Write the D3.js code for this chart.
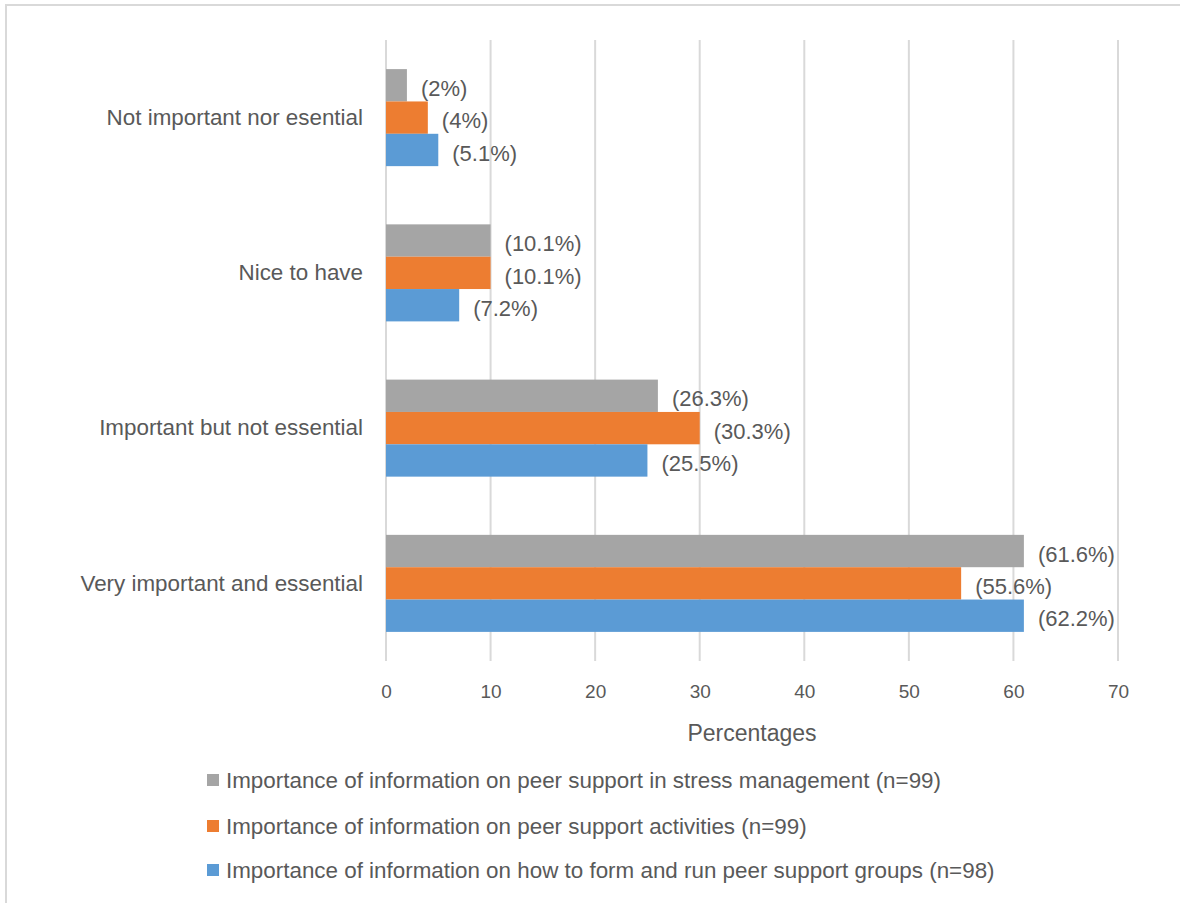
<!DOCTYPE html>
<html><head><meta charset="utf-8">
<script src="https://cdn.jsdelivr.net/npm/d3@7"></script>
<style>body{margin:0;background:#fff}svg{display:block}text{font-family:"Liberation Sans",Arial,sans-serif;fill:#595959}</style>
</head><body>
<svg id="chart" width="1180" height="903"></svg>
<script>
const categories = ["Not important nor esential", "Nice to have", "Important but not essential", "Very important and essential"];
const seriesNames = [
  "Importance of information on peer support in stress management (n=99)",
  "Importance of information on peer support activities (n=99)",
  "Importance of information on how to form and run peer support groups (n=98)"
];
const seriesColors = ["#A5A5A5", "#ED7D31", "#5B9BD5"];
// bar lengths as drawn
const stressValues = [2, 10, 26, 61];
const activitiesValues = [4, 10, 30, 55];
const groupsValues = [5, 7, 25, 61];
// printed data labels
const stressLabels = ["(2%)", "(10.1%)", "(26.3%)", "(61.6%)"];
const activitiesLabels = ["(4%)", "(10.1%)", "(30.3%)", "(55.6%)"];
const groupsLabels = ["(5.1%)", "(7.2%)", "(25.5%)", "(62.2%)"];
const xTicks = [0, 10, 20, 30, 40, 50, 60, 70];
const xTitle = "Percentages";

const values = [stressValues, activitiesValues, groupsValues];
const labels = [stressLabels, activitiesLabels, groupsLabels];

const svg = d3.select("#chart");
// outer border
svg.append("rect").attr("x", 6).attr("y", 5).attr("width", 1200).attr("height", 920)
  .attr("fill", "none").attr("stroke", "#d9d9d9").attr("stroke-width", 2);

const pLeft = 386, pRight = 1118, pTop = 40, pBottom = 661;
const x = d3.scaleLinear().domain([0, 70]).range([pLeft, pRight]);
const y = d3.scaleBand().domain(categories).range([pTop, pBottom]).paddingInner(0.375).paddingOuter(0.1875);
const ys = d3.scaleBand().domain(d3.range(3)).range([0, y.bandwidth()]);

// gridlines
svg.append("g").selectAll("line").data(xTicks).join("line")
  .attr("x1", d => x(d)).attr("x2", d => x(d)).attr("y1", pTop).attr("y2", pBottom)
  .attr("stroke", "#d9d9d9").attr("stroke-width", 2);

// x axis tick labels
const xAxis = d3.axisBottom(x).tickValues(xTicks).tickSize(0).tickPadding(0);
const gx = svg.append("g").attr("transform", `translate(0,${pBottom + 23})`).call(xAxis);
gx.select(".domain").remove();
gx.selectAll("text").attr("font-size", 19).attr("font-family", "Liberation Sans, Arial, sans-serif").attr("fill", "#595959").attr("dy", "0.71em");

// y axis labels
const yAxis = d3.axisLeft(y).tickSize(0).tickPadding(0);
const gy = svg.append("g").attr("transform", `translate(${pLeft - 23},0)`).call(yAxis);
gy.select(".domain").remove();
gy.selectAll("text").attr("font-size", 22.4).attr("font-family", "Liberation Sans, Arial, sans-serif").attr("fill", "#595959");

// bars
const groups = svg.append("g").selectAll("g").data(categories).join("g")
  .attr("transform", d => `translate(0,${y(d)})`);
groups.each(function(cat, ci) {
  const g = d3.select(this);
  for (let s = 0; s < 3; s++) {
    g.append("rect").attr("x", x(0)).attr("y", ys(s))
      .attr("width", x(values[s][ci]) - x(0)).attr("height", ys.bandwidth())
      .attr("fill", seriesColors[s]);
    g.append("text").attr("x", x(values[s][ci]) + 14).attr("y", ys(s) + ys.bandwidth() / 2 + 3)
      .attr("dy", "0.35em").attr("font-size", 22).text(labels[s][ci]);
  }
});

// axis title
svg.append("text").attr("x", (pLeft + pRight) / 2).attr("y", 733).attr("dy", "0.35em")
  .attr("text-anchor", "middle").attr("font-size", 23).text(xTitle);

// legend
const legendY = [780, 826, 870];
const lg = svg.append("g").selectAll("g").data(seriesNames).join("g")
  .attr("transform", (d, i) => `translate(207,${legendY[i]})`);
lg.append("rect").attr("x", 0).attr("y", -6).attr("width", 12).attr("height", 12)
  .attr("fill", (d, i) => seriesColors[i]);
lg.append("text").attr("x", 19).attr("y", 0).attr("dy", "0.35em").attr("font-size", 22.4).text(d => d);
</script>
</body></html>
